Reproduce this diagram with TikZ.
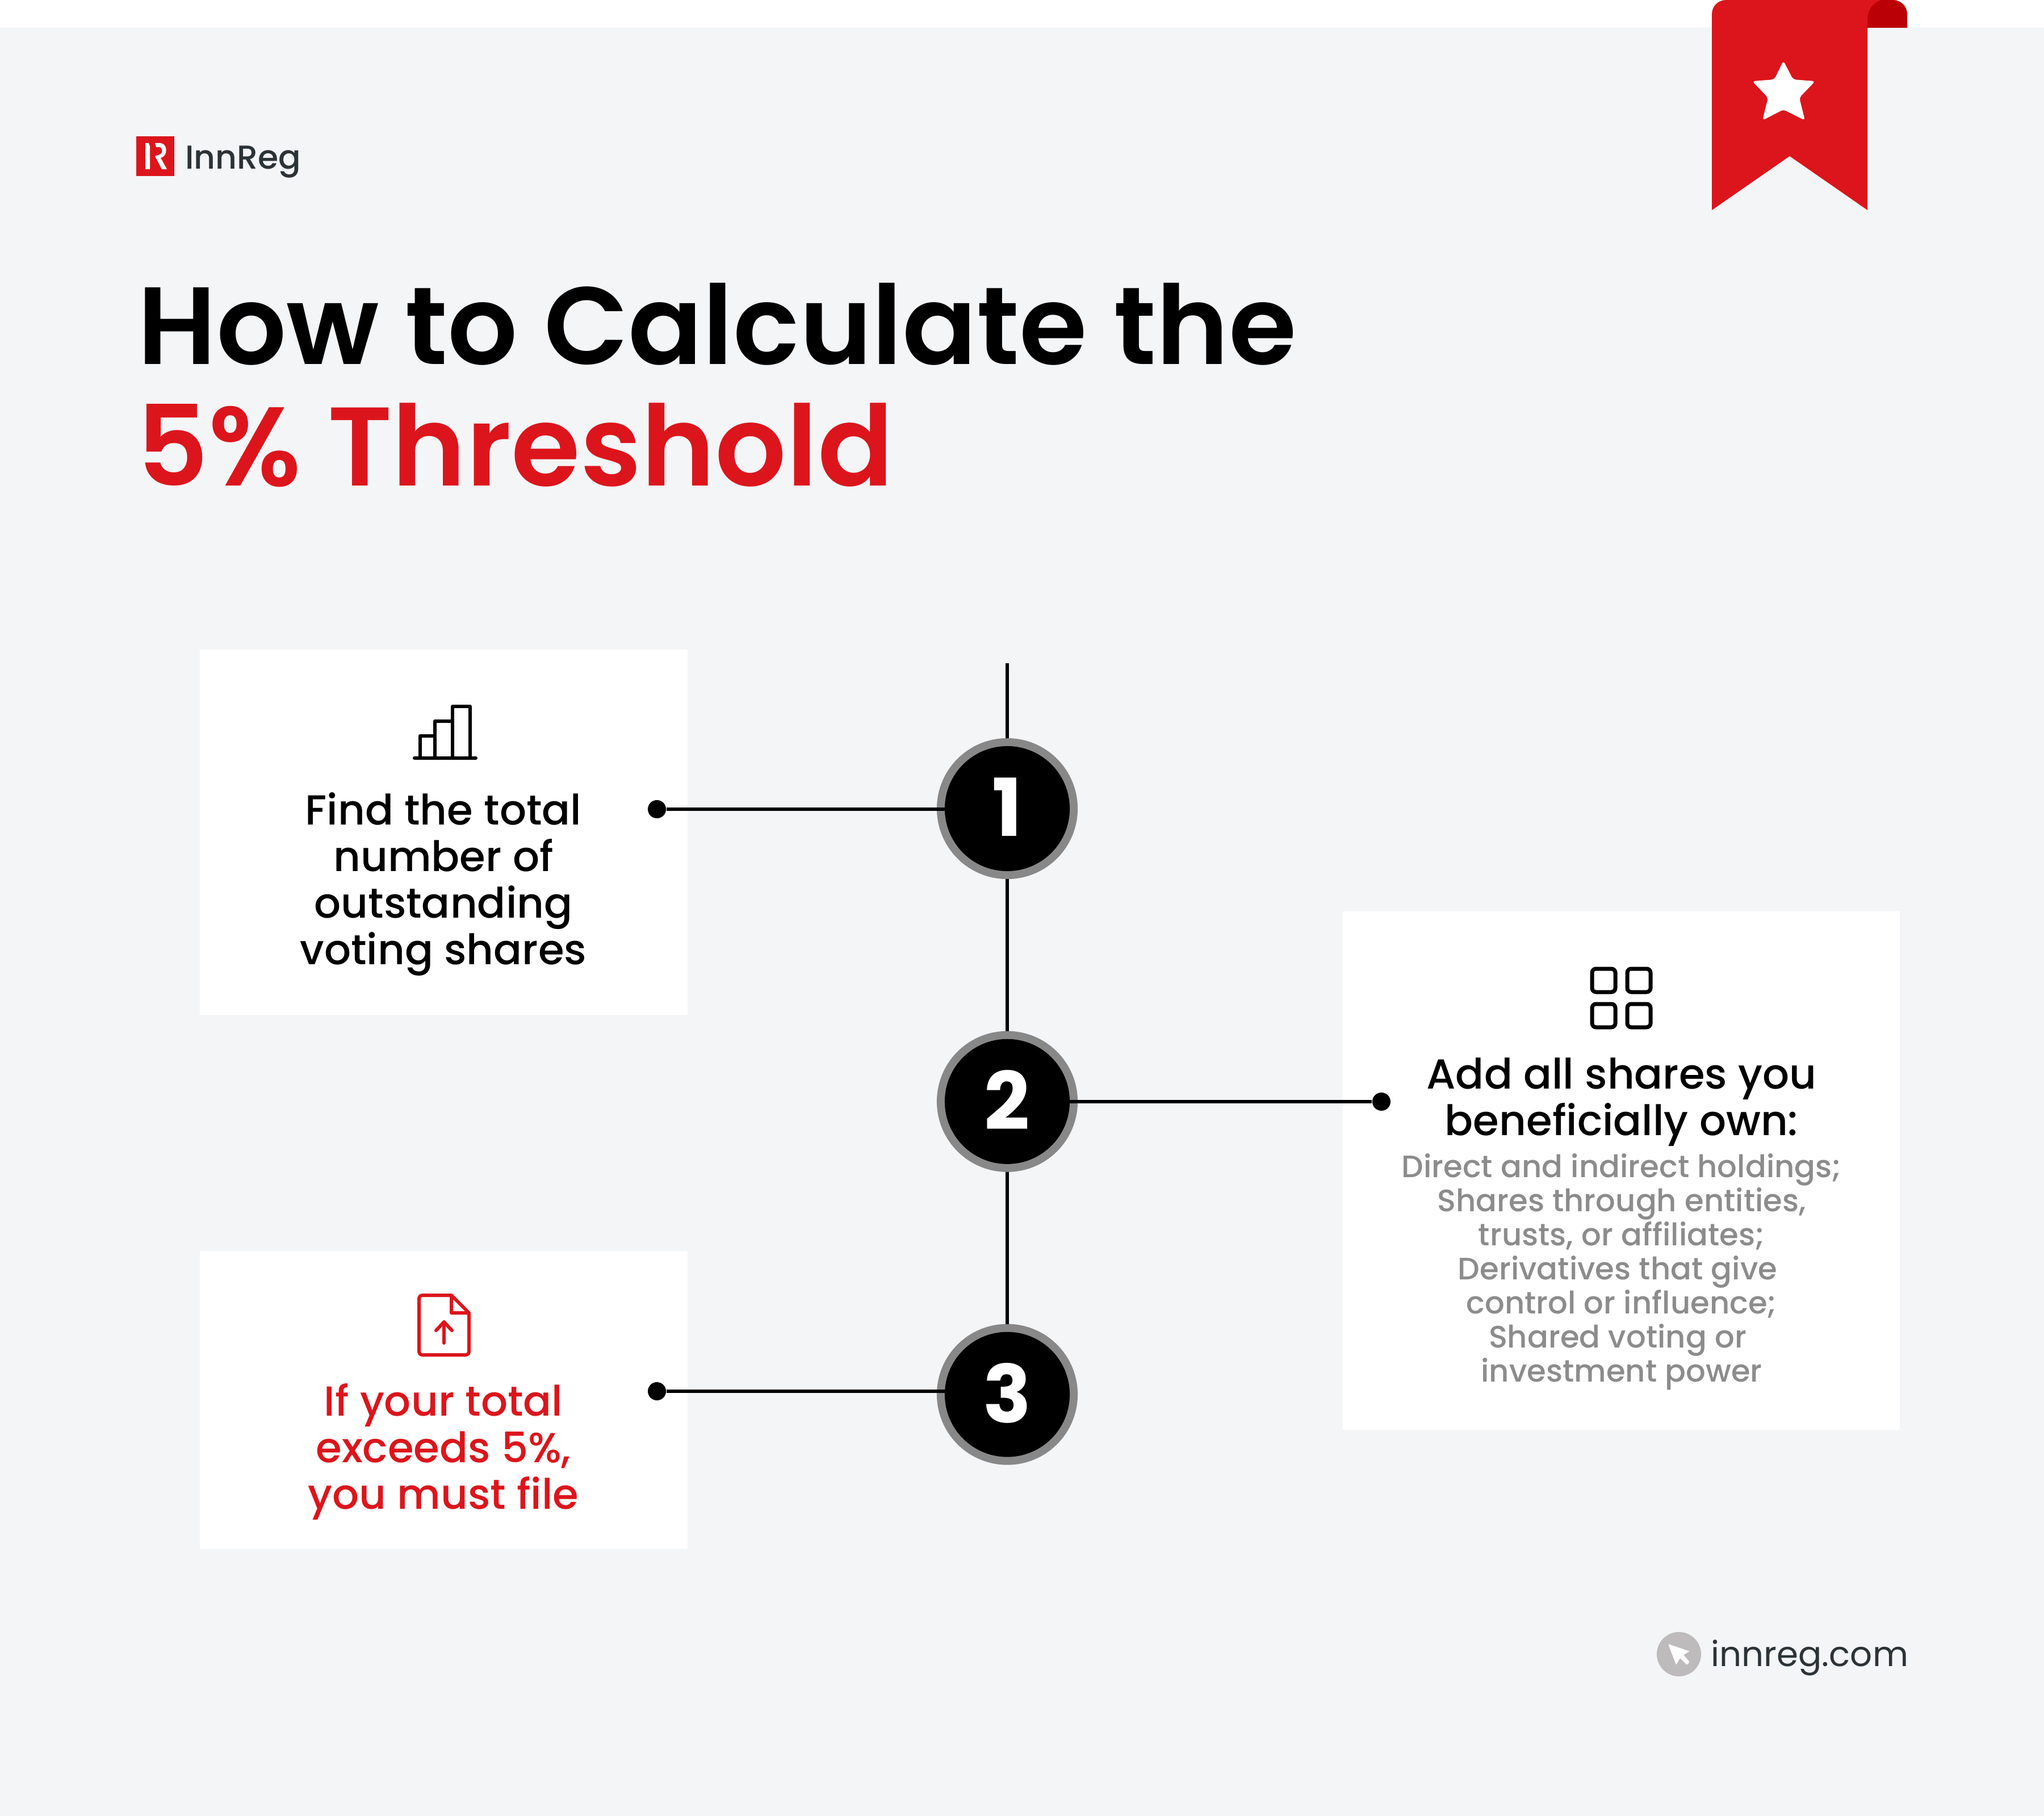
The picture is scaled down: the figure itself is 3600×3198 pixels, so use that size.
\documentclass[tikz,border=0pt]{standalone}
\usepackage{fontspec}
\setmainfont{Poppins}
\newfontfamily\medfont{Poppins Medium}
\newfontfamily\semifont{Poppins SemiBold}
\usepackage{xcolor}
\definecolor{pagegrey}{HTML}{F4F5F7}
\definecolor{innred}{HTML}{DC151C}
\definecolor{innreddark}{HTML}{BA0006}
\definecolor{ringgrey}{HTML}{888888}
\definecolor{softgrey}{HTML}{8C8C8C}
\definecolor{inkgrey}{HTML}{2C3337}
\definecolor{cursorgrey}{HTML}{BDBBBB}
\begin{document}
\begin{tikzpicture}[x=0.01cm,y=-0.01cm,node distance=5.155cm,thick]
            \tikzset{panel/.style={fill=white, anchor=north west, inner sep=0pt, minimum width=8.58cm}}
            \tikzset{ringnode/.style={circle, draw=ringgrey, line width=0.14cm, fill=ringgrey, inner sep=0pt, minimum size=2.34cm}}
            \tikzset{stepnode/.style={circle, fill=black, text=white, inner sep=0pt, minimum size=2.2cm, font=\bfseries\fontsize{40}{40}\selectfont}}
            \tikzset{dotnode/.style={circle, fill=black, inner sep=0pt, minimum size=0.32cm}}
            \tikzset{wire/.style={draw=black, line width=0.06cm}}
            \tikzset{icon/.style={line width=0.06cm, line join=round, line cap=round}}
            \tikzset{stepfont/.style={align=center, font=\medfont\fontsize{21}{23.3}\selectfont}}
            \tikzset{titlefont/.style={anchor=base west, inner sep=0pt, font=\semifont\fontsize{56}{56}\selectfont}}
            \fill[pagegrey] (0,48) rectangle (3600,3198);
            \useasboundingbox (0,0) rectangle (3600,3198);
            \fill[innreddark] (3289,49) -- (3289,0) -- (3334,0) .. controls (3348,0) and (3359,11) .. (3359,25) -- (3359,49) -- cycle;
            \fill[innred] (3015,370) -- (3015,25) .. controls (3015,11) and (3026,0) .. (3040,0) -- (3314,0) .. controls (3298,4) and (3289,18) .. (3289,35) -- (3289,370) -- (3152,275) -- cycle;
            \fill[white, rounded corners=0.05cm] (3141,107) -- (3158,140) -- (3197,143) -- (3169,172) -- (3179,212) -- (3141,193) -- (3104,212) -- (3114,172) -- (3086,143) -- (3125,140) -- cycle;
            \fill[innred] (240,240) rectangle (307,310);
            \fill[white] (256,252) -- (262,252) -- (264,258) -- (264,298) -- (256,298) -- cycle;
            \fill[white] (273,252) -- (282,252) .. controls (296,252) and (296,276) .. (283,278) -- (294,298) -- (285,298) -- (273,275) -- (282,272) .. controls (287,270) and (287,259) .. (280,259) -- (275,259) -- cycle;
            \node[anchor=base west, inner sep=0pt, text=inkgrey, font=\medfont\fontsize{16.6}{16.6}\selectfont] (brand) at (325,298) {InnReg};
            \node[titlefont, font=\semifont\fontsize{55}{55}\selectfont] (titleA) at (241,642) {How to Calculate the};
            \node[titlefont, text=innred] (titleB) at (239,856) {5\% Threshold};
            \node[panel, minimum height=6.42cm] (boxA) at (351,1143) {};
            \node[panel, minimum height=5.24cm] (boxC) at (351,2202) {};
            \node[panel, minimum width=9.8cm, minimum height=9.12cm] (boxB) at (2364,1604) {};
            \coordinate (linetop) at (1774,1168);
            \node[ringnode] (ringA) at (1774,1424) {};
            \node[ringnode] (ringB) [below of=ringA] {};
            \node[ringnode] (ringC) [below of=ringB] {};
            \draw[wire] (linetop) -- (ringA);
            \draw[wire] (ringA) -- (ringB);
            \draw[wire] (ringB) -- (ringC);
            \node[dotnode] (dotA) at (1157,1425) {};
            \node[dotnode] (dotB) at (2433,1940) {};
            \node[dotnode] (dotC) at (1157,2450) {};
            \draw[wire] (dotA) -- (dotA -| ringA);
            \draw[wire] (dotB) -- (dotB -| ringB);
            \draw[wire] (dotC) -- (dotC -| ringC);
            \node[stepnode] (stepA) at (ringA) {\raisebox{0.05cm}{1}};
            \node[stepnode] (stepB) at (ringB) {\raisebox{0.05cm}{2}};
            \node[stepnode] (stepC) at (ringC) {\raisebox{0.05cm}{3}};
            \draw[icon] (730,1335) -- (838,1335);
            \draw[icon] (740,1335) -- (740,1296) -- (766,1296) -- (766,1335);
            \draw[icon] (766,1296) -- (766,1270) -- (797,1270) -- (797,1335);
            \draw[icon] (797,1270) -- (797,1244) -- (828,1244) -- (828,1335);
            \foreach \gx in {2804,2866}
                \foreach \gy in {1706,1768}
                    \draw[icon, line width=0.07cm, rounded corners=0.07cm] (\gx,\gy) rectangle (\gx+41,\gy+41);
            \draw[icon, innred, rounded corners=0.06cm] (795,2281) -- (738,2281) -- (738,2386) -- (826,2386) -- (826,2312);
            \draw[icon, innred] (795,2281) -- (826,2312) -- (795,2312) -- cycle;
            \draw[icon, innred] (782,2365) -- (782,2328);
            \draw[icon, innred] (768,2343) -- (782,2328) -- (796,2343);
            \node[stepfont, anchor=north] (textA) at (781,1383) {Find the total\\number of\\outstanding\\voting shares};
            \node[stepfont, anchor=north, text=innred] (textC) at (781,2423) {If your total\\exceeds 5\%,\\you must file};
            \node[stepfont, anchor=north] (textB) at (2856,1850) {Add all shares you\\beneficially own:};
            \node[anchor=north, align=center, text=softgrey, font=\medfont\fontsize{15.5}{17.1}\selectfont] (textD) at (2856,2018) {Direct and indirect holdings;\\Shares through entities,\\trusts, or affiliates;\\Derivatives that give\hspace*{0.14cm}\mbox{}\\control or influence;\\Shared voting or\hspace*{0.14cm}\mbox{}\\investment power};
            \fill[cursorgrey] (2957,2913) circle (0.39cm);
            \fill[white, rounded corners=0.02cm] (2938,2895) -- (2976,2908) -- (2965,2914) -- (2976,2927) -- (2971,2932) -- (2959,2920) -- (2952,2932) -- cycle;
            \node[anchor=base west, inner sep=0pt, text=inkgrey, font=\fontsize{17.4}{17.4}\selectfont] (siteurl) at (3012,2934) {innreg.com};
        \end{tikzpicture}
\end{document}
